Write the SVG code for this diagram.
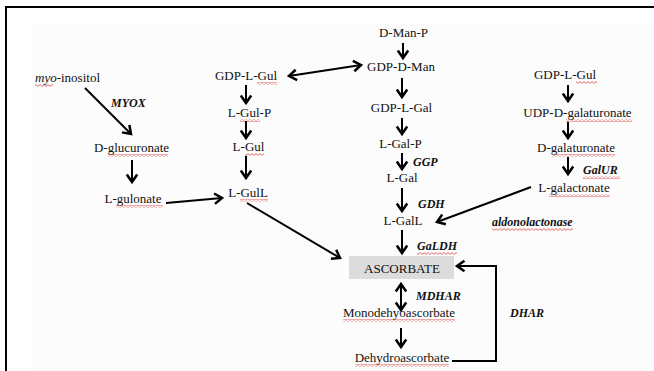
<svg xmlns="http://www.w3.org/2000/svg" width="654" height="371" viewBox="0 0 654 371">
<defs>
<marker id="ah" markerUnits="userSpaceOnUse" markerWidth="14" markerHeight="14" refX="9" refY="6" orient="auto-start-reverse" viewBox="0 0 14 12">
<path d="M1.5,0.8 L9,6 L1.5,11.2" fill="none" stroke="#000" stroke-width="2.5" stroke-linejoin="miter"/>
</marker>
<pattern id="wavy" patternUnits="userSpaceOnUse" width="4" height="3">
<path d="M0,0.6 L2,2.4 L4,0.6" fill="none" stroke="#e0403a" stroke-width="0.8"/>
</pattern>
<style>
text{font-family:"Liberation Serif","Times New Roman",serif;font-size:13px;fill:#111;}
.m{text-anchor:middle;}
.e{font-weight:bold;font-style:italic;font-size:12px;}
.c line,.c path{stroke:#000;stroke-width:2;fill:none;marker-end:url(#ah);}
.c .d{marker-start:url(#ah);}
.w{fill:url(#wavy);}
</style>
</defs>
<rect x="0" y="0" width="654" height="371" fill="#fff"/>
<rect x="31" y="23" width="623" height="348" fill="#fcfcfc"/>
<path d="M6,371 L6,7 L654,7" fill="none" stroke="#000" stroke-width="2"/>

<g id="ascorbate-box"><rect x="349" y="256" width="105" height="23" fill="#dcdcdc"/><text class="m" x="402" y="273">ASCORBATE</text></g>

<g id="n-myo"><text x="35" y="82"><tspan font-style="italic">myo</tspan>-inositol</text><rect class="w" x="35" y="84" width="18" height="3"/></g>
<g id="n-dglucuronate"><text class="m" x="131.5" y="152">D-glucuronate</text><rect class="w" x="108" y="154" width="60" height="3"/></g>
<g id="n-lgulonate"><text class="m" x="133" y="203">L-gulonate</text><rect class="w" x="116" y="205" width="47" height="3"/></g>
<g id="n-gdplgul1"><text class="m" x="246" y="80">GDP-L-Gul</text><rect class="w" x="257" y="82" width="20" height="3"/></g>
<g id="n-lgulp"><text class="m" x="249.5" y="117">L-Gul-P</text><rect class="w" x="240" y="119" width="20" height="3"/></g>
<g id="n-lgul"><text class="m" x="248.5" y="151">L-Gul</text><rect class="w" x="245" y="153" width="19" height="3"/></g>
<g id="n-lgull"><text class="m" x="248" y="197">L-GulL</text><rect class="w" x="240" y="199" width="28" height="3"/></g>

<g id="n-dmanp"><text class="m" x="403.5" y="37">D-Man-P</text></g>
<g id="n-gdpdman"><text class="m" x="401" y="71">GDP-D-Man</text></g>
<g id="n-gdplgal"><text class="m" x="401.5" y="112">GDP-L-Gal</text></g>
<g id="n-lgalp"><text class="m" x="400.5" y="148">L-Gal-P</text></g>
<g id="n-lgal"><text class="m" x="402" y="182">L-Gal</text></g>
<g id="n-lgall"><text class="m" x="403" y="225">L-GalL</text></g>
<g id="n-mono"><text class="m" x="399" y="317">Monodehyoascorbate</text><rect class="w" x="343" y="319" width="112" height="3"/></g>
<g id="n-dehydro"><text class="m" x="402" y="362">Dehydroascorbate</text><rect class="w" x="355" y="364" width="94" height="3"/></g>

<g id="n-gdplgul2"><text class="m" x="565" y="79">GDP-L-Gul</text><rect class="w" x="576" y="81" width="21" height="3"/></g>
<g id="n-udp"><text class="m" x="577.5" y="117">UDP-D-galaturonate</text><rect class="w" x="566" y="119" width="66" height="3"/></g>
<g id="n-dgalat"><text class="m" x="576" y="152">D-galaturonate</text><rect class="w" x="552" y="154" width="63" height="3"/></g>
<g id="n-lgalactonate"><text class="m" x="574" y="192">L-galactonate</text><rect class="w" x="549" y="194" width="61" height="3"/></g>

<g id="labels">
<text class="e" x="111" y="107">MYOX</text>
<text class="e" x="413" y="166">GGP</text>
<text class="e" x="418" y="208">GDH</text>
<text class="e" x="417" y="250">GaLDH</text><rect class="w" x="417" y="252" width="40" height="3"/>
<text class="e" x="416" y="300">MDHAR</text>
<text class="e" x="510" y="317">DHAR</text>
<text class="e" x="583" y="174">GalUR</text><rect class="w" x="583" y="176" width="37" height="3"/>
<text class="e" x="492" y="226">aldonolactonase</text><rect class="w" x="492" y="228" width="81" height="3"/>
</g>

<g id="connectors" class="c">
<line x1="85" y1="88" x2="131" y2="134"/>
<line x1="132" y1="160" x2="132" y2="182"/>
<line x1="166" y1="203" x2="222" y2="198"/>
<line x1="246" y1="85" x2="246" y2="103"/>
<line x1="246" y1="121" x2="246" y2="138"/>
<line x1="246" y1="156" x2="246" y2="178"/>
<line x1="247" y1="203" x2="340" y2="258"/>
<line class="d" x1="289" y1="76" x2="361" y2="65"/>
<line x1="403" y1="43" x2="403" y2="58"/>
<line x1="402" y1="78" x2="402" y2="97"/>
<line x1="402" y1="118" x2="402" y2="134"/>
<line x1="402" y1="153" x2="402" y2="169"/>
<line x1="402" y1="188" x2="402" y2="211"/>
<line x1="402" y1="230" x2="402" y2="253"/>
<line class="d" x1="401" y1="284" x2="401" y2="310"/>
<line x1="401" y1="328" x2="401" y2="347"/>
<line x1="568" y1="85" x2="568" y2="101"/>
<line x1="568" y1="122" x2="568" y2="138"/>
<line x1="568" y1="157" x2="568" y2="174"/>
<line x1="531" y1="187" x2="437" y2="222"/>
<path d="M452,361 L496,361 L496,266 L457,266"/>
</g>
</svg>
